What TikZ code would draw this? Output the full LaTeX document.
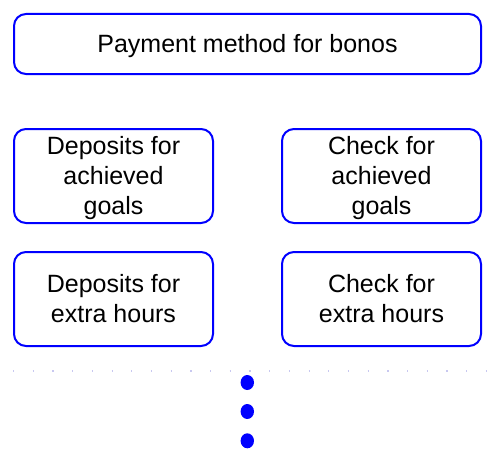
\documentclass[tikz,border=0pt]{standalone}
\usepackage{fontspec}
\setmainfont{Liberation Sans}
\newcommand{\lnstrut}{\rule[-6.3pt]{0pt}{30pt}}
\tikzset{
  box/.style={draw=blue, line width=2pt, rounded corners=12pt, fill=white,
    inner sep=0pt, outer sep=0pt, align=center,
    font=\fontsize{25}{30}\selectfont},
  sepline/.style={draw={rgb,255:red,200;green,200;blue,240}, line width=1.2pt,
    dash pattern=on 1.2pt off 18.5pt},
  vdot/.style={fill=blue}
}
\begin{document}
\begin{tikzpicture}[x=1pt,y=1pt]
\useasboundingbox (0,0) rectangle (497,-460);
\node[box, minimum width=467pt, minimum height=60pt] (top) at (247.5,-44) {\lnstrut Payment method for bonos};
\node[box, minimum width=199pt, minimum height=94pt] (dag) at (113.5,-176) {\lnstrut Deposits for\\\lnstrut achieved\\\lnstrut goals};
\node[box, minimum width=199pt, minimum height=94pt] (cag) at (381.5,-176) {\lnstrut Check for\\\lnstrut achieved\\\lnstrut goals};
\node[box, minimum width=199pt, minimum height=94pt] (deh) at (113.5,-299) {\lnstrut Deposits for\\\lnstrut extra hours};
\node[box, minimum width=199pt, minimum height=94pt] (ceh) at (381.5,-299) {\lnstrut Check for\\\lnstrut extra hours};
\coordinate (sl) at (13,-371);
\coordinate (sr) at (490,-371);
\draw[sepline] (sl) -- (sr);
\fill[vdot] (247.3,-382.5) ellipse (6.7 and 7.5);
\fill[vdot] (247.3,-411.5) ellipse (6.7 and 7.5);
\fill[vdot] (247.3,-440.8) ellipse (6.7 and 7.5);
\end{tikzpicture}
\end{document}
